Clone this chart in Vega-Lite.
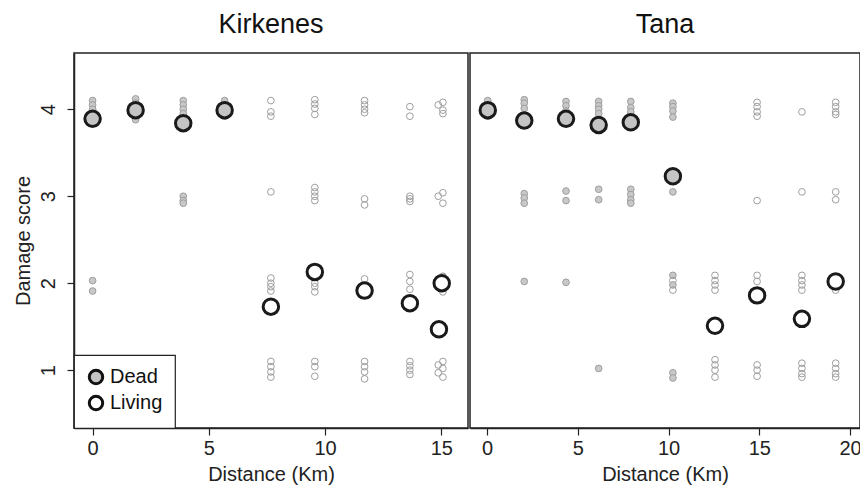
{
  "$schema": "https://vega.github.io/schema/vega-lite/v6.json",
  "background": "white",
  "padding": {"left": 12, "top": 10, "right": 0, "bottom": 0},
  "spacing": 0,
  "datasets": {
    "pts": [
      {"s":"Kirkenes","k":"i","st":"Dead","d":0,"y":4.1},{"s":"Kirkenes","k":"i","st":"Dead","d":0,"y":4.05},{"s":"Kirkenes","k":"i","st":"Dead","d":0,"y":4.0},{"s":"Kirkenes","k":"i","st":"Dead","d":0,"y":3.95},{"s":"Kirkenes","k":"i","st":"Dead","d":0,"y":3.9},{"s":"Kirkenes","k":"i","st":"Dead","d":0,"y":2.03},{"s":"Kirkenes","k":"i","st":"Dead","d":0,"y":1.91},
      {"s":"Kirkenes","k":"i","st":"Dead","d":1.85,"y":4.12},{"s":"Kirkenes","k":"i","st":"Dead","d":1.85,"y":4.07},{"s":"Kirkenes","k":"i","st":"Dead","d":1.85,"y":4.02},{"s":"Kirkenes","k":"i","st":"Dead","d":1.85,"y":3.97},{"s":"Kirkenes","k":"i","st":"Dead","d":1.85,"y":3.92},{"s":"Kirkenes","k":"i","st":"Dead","d":1.85,"y":3.88},
      {"s":"Kirkenes","k":"i","st":"Dead","d":3.9,"y":4.1},{"s":"Kirkenes","k":"i","st":"Dead","d":3.9,"y":4.05},{"s":"Kirkenes","k":"i","st":"Dead","d":3.9,"y":4.0},{"s":"Kirkenes","k":"i","st":"Dead","d":3.9,"y":3.95},{"s":"Kirkenes","k":"i","st":"Dead","d":3.9,"y":3.0},{"s":"Kirkenes","k":"i","st":"Dead","d":3.9,"y":2.95},{"s":"Kirkenes","k":"i","st":"Dead","d":3.9,"y":2.92},
      {"s":"Kirkenes","k":"i","st":"Dead","d":5.68,"y":4.1},{"s":"Kirkenes","k":"i","st":"Dead","d":5.68,"y":4.05},{"s":"Kirkenes","k":"i","st":"Dead","d":5.68,"y":4.0},{"s":"Kirkenes","k":"i","st":"Dead","d":5.68,"y":3.95},{"s":"Kirkenes","k":"i","st":"Dead","d":5.68,"y":3.92},
      {"s":"Kirkenes","k":"i","st":"Living","d":7.67,"y":4.1},{"s":"Kirkenes","k":"i","st":"Living","d":7.67,"y":3.97},{"s":"Kirkenes","k":"i","st":"Living","d":7.67,"y":3.92},{"s":"Kirkenes","k":"i","st":"Living","d":7.67,"y":3.05},{"s":"Kirkenes","k":"i","st":"Living","d":7.67,"y":2.06},{"s":"Kirkenes","k":"i","st":"Living","d":7.67,"y":2.0},{"s":"Kirkenes","k":"i","st":"Living","d":7.67,"y":1.96},{"s":"Kirkenes","k":"i","st":"Living","d":7.67,"y":1.91},{"s":"Kirkenes","k":"i","st":"Living","d":7.67,"y":1.1},{"s":"Kirkenes","k":"i","st":"Living","d":7.67,"y":1.04},{"s":"Kirkenes","k":"i","st":"Living","d":7.67,"y":0.98},{"s":"Kirkenes","k":"i","st":"Living","d":7.67,"y":0.92},
      {"s":"Kirkenes","k":"i","st":"Living","d":9.56,"y":4.11},{"s":"Kirkenes","k":"i","st":"Living","d":9.56,"y":4.06},{"s":"Kirkenes","k":"i","st":"Living","d":9.56,"y":4.01},{"s":"Kirkenes","k":"i","st":"Living","d":9.56,"y":3.94},{"s":"Kirkenes","k":"i","st":"Living","d":9.56,"y":3.1},{"s":"Kirkenes","k":"i","st":"Living","d":9.56,"y":3.05},{"s":"Kirkenes","k":"i","st":"Living","d":9.56,"y":3.0},{"s":"Kirkenes","k":"i","st":"Living","d":9.56,"y":2.95},{"s":"Kirkenes","k":"i","st":"Living","d":9.56,"y":2.0},{"s":"Kirkenes","k":"i","st":"Living","d":9.56,"y":1.96},{"s":"Kirkenes","k":"i","st":"Living","d":9.56,"y":1.9},{"s":"Kirkenes","k":"i","st":"Living","d":9.56,"y":1.1},{"s":"Kirkenes","k":"i","st":"Living","d":9.56,"y":1.04},{"s":"Kirkenes","k":"i","st":"Living","d":9.56,"y":0.93},
      {"s":"Kirkenes","k":"i","st":"Living","d":11.7,"y":4.1},{"s":"Kirkenes","k":"i","st":"Living","d":11.7,"y":4.05},{"s":"Kirkenes","k":"i","st":"Living","d":11.7,"y":4.0},{"s":"Kirkenes","k":"i","st":"Living","d":11.7,"y":3.96},{"s":"Kirkenes","k":"i","st":"Living","d":11.7,"y":2.97},{"s":"Kirkenes","k":"i","st":"Living","d":11.7,"y":2.9},{"s":"Kirkenes","k":"i","st":"Living","d":11.7,"y":2.05},{"s":"Kirkenes","k":"i","st":"Living","d":11.7,"y":1.1},{"s":"Kirkenes","k":"i","st":"Living","d":11.7,"y":1.04},{"s":"Kirkenes","k":"i","st":"Living","d":11.7,"y":0.98},{"s":"Kirkenes","k":"i","st":"Living","d":11.7,"y":0.9},
      {"s":"Kirkenes","k":"i","st":"Living","d":13.65,"y":4.03},{"s":"Kirkenes","k":"i","st":"Living","d":13.65,"y":3.92},{"s":"Kirkenes","k":"i","st":"Living","d":13.65,"y":3.0},{"s":"Kirkenes","k":"i","st":"Living","d":13.65,"y":2.97},{"s":"Kirkenes","k":"i","st":"Living","d":13.65,"y":2.94},{"s":"Kirkenes","k":"i","st":"Living","d":13.65,"y":2.1},{"s":"Kirkenes","k":"i","st":"Living","d":13.65,"y":2.02},{"s":"Kirkenes","k":"i","st":"Living","d":13.65,"y":1.93},{"s":"Kirkenes","k":"i","st":"Living","d":13.65,"y":1.1},{"s":"Kirkenes","k":"i","st":"Living","d":13.65,"y":1.05},{"s":"Kirkenes","k":"i","st":"Living","d":13.65,"y":1.0},{"s":"Kirkenes","k":"i","st":"Living","d":13.65,"y":0.95},
      {"s":"Kirkenes","k":"i","st":"Living","d":15.07,"y":4.08},{"s":"Kirkenes","k":"i","st":"Living","d":15.07,"y":3.99},{"s":"Kirkenes","k":"i","st":"Living","d":15.07,"y":3.95},{"s":"Kirkenes","k":"i","st":"Living","d":15.07,"y":3.04},{"s":"Kirkenes","k":"i","st":"Living","d":15.07,"y":2.92},{"s":"Kirkenes","k":"i","st":"Dead","d":15.07,"y":2.08},{"s":"Kirkenes","k":"i","st":"Living","d":15.07,"y":2.0},{"s":"Kirkenes","k":"i","st":"Living","d":15.07,"y":1.9},{"s":"Kirkenes","k":"i","st":"Living","d":15.07,"y":1.1},{"s":"Kirkenes","k":"i","st":"Living","d":15.07,"y":1.02},{"s":"Kirkenes","k":"i","st":"Living","d":15.07,"y":0.92},
      {"s":"Kirkenes","k":"i","st":"Living","d":14.87,"y":4.05},{"s":"Kirkenes","k":"i","st":"Living","d":14.87,"y":3.0},{"s":"Kirkenes","k":"i","st":"Living","d":14.87,"y":1.06},{"s":"Kirkenes","k":"i","st":"Living","d":14.87,"y":0.97},
      {"s":"Kirkenes","k":"m","st":"Dead","d":0,"y":3.89},{"s":"Kirkenes","k":"m","st":"Dead","d":1.85,"y":3.99},{"s":"Kirkenes","k":"m","st":"Dead","d":3.9,"y":3.84},{"s":"Kirkenes","k":"m","st":"Dead","d":5.68,"y":3.99},
      {"s":"Kirkenes","k":"m","st":"Living","d":7.67,"y":1.73},{"s":"Kirkenes","k":"m","st":"Living","d":9.56,"y":2.13},{"s":"Kirkenes","k":"m","st":"Living","d":11.7,"y":1.915},{"s":"Kirkenes","k":"m","st":"Living","d":13.65,"y":1.77},{"s":"Kirkenes","k":"m","st":"Living","d":15.02,"y":2.0},{"s":"Kirkenes","k":"m","st":"Living","d":14.9,"y":1.47},
      {"s":"Tana","k":"i","st":"Dead","d":0.04,"y":4.1},{"s":"Tana","k":"i","st":"Dead","d":0.04,"y":4.05},{"s":"Tana","k":"i","st":"Dead","d":0.04,"y":4.0},{"s":"Tana","k":"i","st":"Dead","d":0.04,"y":3.95},{"s":"Tana","k":"i","st":"Dead","d":0.04,"y":3.92},
      {"s":"Tana","k":"i","st":"Dead","d":2.05,"y":4.11},{"s":"Tana","k":"i","st":"Dead","d":2.05,"y":4.07},{"s":"Tana","k":"i","st":"Dead","d":2.05,"y":4.01},{"s":"Tana","k":"i","st":"Dead","d":2.05,"y":3.93},{"s":"Tana","k":"i","st":"Dead","d":2.05,"y":3.03},{"s":"Tana","k":"i","st":"Dead","d":2.05,"y":2.98},{"s":"Tana","k":"i","st":"Dead","d":2.05,"y":2.92},{"s":"Tana","k":"i","st":"Dead","d":2.05,"y":2.02},
      {"s":"Tana","k":"i","st":"Dead","d":4.35,"y":4.09},{"s":"Tana","k":"i","st":"Dead","d":4.35,"y":4.04},{"s":"Tana","k":"i","st":"Dead","d":4.35,"y":3.98},{"s":"Tana","k":"i","st":"Dead","d":4.35,"y":3.06},{"s":"Tana","k":"i","st":"Dead","d":4.35,"y":2.95},{"s":"Tana","k":"i","st":"Dead","d":4.35,"y":2.01},
      {"s":"Tana","k":"i","st":"Dead","d":6.15,"y":4.09},{"s":"Tana","k":"i","st":"Dead","d":6.15,"y":4.04},{"s":"Tana","k":"i","st":"Dead","d":6.15,"y":4.0},{"s":"Tana","k":"i","st":"Dead","d":6.15,"y":3.95},{"s":"Tana","k":"i","st":"Dead","d":6.15,"y":3.08},{"s":"Tana","k":"i","st":"Dead","d":6.15,"y":2.96},{"s":"Tana","k":"i","st":"Dead","d":6.15,"y":1.02},
      {"s":"Tana","k":"i","st":"Dead","d":7.92,"y":4.09},{"s":"Tana","k":"i","st":"Dead","d":7.92,"y":4.02},{"s":"Tana","k":"i","st":"Dead","d":7.92,"y":3.97},{"s":"Tana","k":"i","st":"Dead","d":7.92,"y":3.08},{"s":"Tana","k":"i","st":"Dead","d":7.92,"y":3.02},{"s":"Tana","k":"i","st":"Dead","d":7.92,"y":2.96},{"s":"Tana","k":"i","st":"Dead","d":7.92,"y":2.92},
      {"s":"Tana","k":"i","st":"Dead","d":10.24,"y":4.07},{"s":"Tana","k":"i","st":"Dead","d":10.24,"y":4.03},{"s":"Tana","k":"i","st":"Dead","d":10.24,"y":3.98},{"s":"Tana","k":"i","st":"Dead","d":10.24,"y":3.91},{"s":"Tana","k":"i","st":"Dead","d":10.24,"y":3.05},{"s":"Tana","k":"i","st":"Dead","d":10.24,"y":2.09},{"s":"Tana","k":"i","st":"Living","d":10.24,"y":2.03},{"s":"Tana","k":"i","st":"Dead","d":10.24,"y":1.98},{"s":"Tana","k":"i","st":"Living","d":10.24,"y":1.92},{"s":"Tana","k":"i","st":"Dead","d":10.24,"y":0.97},{"s":"Tana","k":"i","st":"Dead","d":10.24,"y":0.91},
      {"s":"Tana","k":"i","st":"Living","d":12.56,"y":2.09},{"s":"Tana","k":"i","st":"Living","d":12.56,"y":2.03},{"s":"Tana","k":"i","st":"Living","d":12.56,"y":1.98},{"s":"Tana","k":"i","st":"Living","d":12.56,"y":1.92},{"s":"Tana","k":"i","st":"Living","d":12.56,"y":1.12},{"s":"Tana","k":"i","st":"Living","d":12.56,"y":1.06},{"s":"Tana","k":"i","st":"Living","d":12.56,"y":1.0},{"s":"Tana","k":"i","st":"Living","d":12.56,"y":0.92},
      {"s":"Tana","k":"i","st":"Living","d":14.88,"y":4.08},{"s":"Tana","k":"i","st":"Living","d":14.88,"y":4.03},{"s":"Tana","k":"i","st":"Living","d":14.88,"y":3.97},{"s":"Tana","k":"i","st":"Living","d":14.88,"y":3.92},{"s":"Tana","k":"i","st":"Living","d":14.88,"y":2.95},{"s":"Tana","k":"i","st":"Living","d":14.88,"y":2.09},{"s":"Tana","k":"i","st":"Living","d":14.88,"y":2.02},{"s":"Tana","k":"i","st":"Living","d":14.88,"y":1.06},{"s":"Tana","k":"i","st":"Living","d":14.88,"y":1.0},{"s":"Tana","k":"i","st":"Living","d":14.88,"y":0.93},
      {"s":"Tana","k":"i","st":"Living","d":17.35,"y":3.97},{"s":"Tana","k":"i","st":"Living","d":17.35,"y":3.05},{"s":"Tana","k":"i","st":"Living","d":17.35,"y":2.09},{"s":"Tana","k":"i","st":"Living","d":17.35,"y":2.03},{"s":"Tana","k":"i","st":"Living","d":17.35,"y":1.98},{"s":"Tana","k":"i","st":"Living","d":17.35,"y":1.92},{"s":"Tana","k":"i","st":"Living","d":17.35,"y":1.08},{"s":"Tana","k":"i","st":"Living","d":17.35,"y":1.02},{"s":"Tana","k":"i","st":"Living","d":17.35,"y":0.96},{"s":"Tana","k":"i","st":"Living","d":17.35,"y":0.92},
      {"s":"Tana","k":"i","st":"Living","d":19.21,"y":4.08},{"s":"Tana","k":"i","st":"Living","d":19.21,"y":4.03},{"s":"Tana","k":"i","st":"Living","d":19.21,"y":3.97},{"s":"Tana","k":"i","st":"Living","d":19.21,"y":3.94},{"s":"Tana","k":"i","st":"Living","d":19.21,"y":3.05},{"s":"Tana","k":"i","st":"Living","d":19.21,"y":2.96},{"s":"Tana","k":"i","st":"Living","d":19.21,"y":2.02},{"s":"Tana","k":"i","st":"Living","d":19.21,"y":1.92},{"s":"Tana","k":"i","st":"Living","d":19.21,"y":1.08},{"s":"Tana","k":"i","st":"Living","d":19.21,"y":1.02},{"s":"Tana","k":"i","st":"Living","d":19.21,"y":0.96},{"s":"Tana","k":"i","st":"Living","d":19.21,"y":0.92},
      {"s":"Tana","k":"m","st":"Dead","d":0.04,"y":3.99},{"s":"Tana","k":"m","st":"Dead","d":2.05,"y":3.87},{"s":"Tana","k":"m","st":"Dead","d":4.35,"y":3.89},{"s":"Tana","k":"m","st":"Dead","d":6.15,"y":3.82},{"s":"Tana","k":"m","st":"Dead","d":7.92,"y":3.85},{"s":"Tana","k":"m","st":"Dead","d":10.24,"y":3.23},
      {"s":"Tana","k":"m","st":"Living","d":12.56,"y":1.51},{"s":"Tana","k":"m","st":"Living","d":14.88,"y":1.86},{"s":"Tana","k":"m","st":"Living","d":17.35,"y":1.59},{"s":"Tana","k":"m","st":"Living","d":19.21,"y":2.02}
    ]
  },
  "config": {
    "font": "Liberation Sans, Arial, Helvetica, sans-serif",
    "view": {"stroke": "#222", "strokeWidth": 1.5},
    "axis": {"domainColor": "#222", "domainWidth": 1.5, "tickColor": "#222", "tickWidth": 1.2, "tickSize": 7, "labelFontSize": 20, "labelColor": "#222", "titleFontSize": 20, "titleFontWeight": "normal", "titleColor": "#222", "grid": false, "labelPadding": 3, "titlePadding": 6},
    "title": {"fontSize": 27, "fontWeight": "normal", "color": "#111", "offset": 14, "anchor": "middle", "frame": "group"},
    "legend": {"strokeColor": "#222", "strokeWidth": 1.2, "fillColor": "white", "padding": 12, "labelFontSize": 20, "labelColor": "#111", "symbolStrokeColor": "#111", "symbolStrokeWidth": 3, "symbolSize": 180, "symbolType": "circle", "labelOffset": 4, "rowPadding": 0}
  },
  "resolve": {"scale": {"x": "independent", "y": "independent", "fill": "independent"}, "legend": {"fill": "independent"}},
  "hconcat": [
    {
      "width": 394, "height": 375,
      "title": "Kirkenes",
      "data": {"name": "pts"},
      "transform": [{"filter": "datum.s === 'Kirkenes'"}],
      "encoding": {
        "x": {"field": "d", "type": "quantitative", "title": "Distance (Km)", "scale": {"domain": [-0.8, 16.15], "nice": false, "zero": false}, "axis": {"values": [0, 5, 10, 15]}},
        "y": {"field": "y", "type": "quantitative", "title": "Damage score", "scale": {"domain": [0.335, 4.647], "nice": false, "zero": false}, "axis": {"values": [1, 2, 3, 4], "labelAngle": -90, "labelAlign": "center", "labelBaseline": "bottom", "labelPadding": 9, "titlePadding": 5}}
      },
      "layer": [
        {"transform": [{"filter": "datum.k === 'i'"}], "mark": {"type": "circle", "size": 45, "stroke": "#9e9e9e", "strokeWidth": 1, "opacity": 1}, "encoding": {"fill": {"condition": {"test": "datum.st === 'Dead'", "value": "#c8c8c8"}, "value": "transparent"}}},
        {"transform": [{"filter": "datum.k === 'm'"}], "mark": {"type": "circle", "size": 240, "stroke": "#1a1a1a", "strokeWidth": 3, "opacity": 1}, "encoding": {"fill": {"field": "st", "type": "nominal", "scale": {"domain": ["Dead", "Living"], "range": ["#c4c4c4", "white"]}, "legend": {"title": null, "orient": "bottom-left", "offset": 0}}}}
      ]
    },
    {
      "width": 390, "height": 375,
      "title": "Tana",
      "data": {"name": "pts"},
      "transform": [{"filter": "datum.s === 'Tana'"}],
      "encoding": {
        "x": {"field": "d", "type": "quantitative", "title": "Distance (Km)", "scale": {"domain": [-0.94, 20.55], "nice": false, "zero": false}, "axis": {"values": [0, 5, 10, 15, 20]}},
        "y": {"field": "y", "type": "quantitative", "scale": {"domain": [0.335, 4.647], "nice": false, "zero": false}, "axis": null}
      },
      "layer": [
        {"transform": [{"filter": "datum.k === 'i'"}], "mark": {"type": "circle", "size": 45, "stroke": "#9e9e9e", "strokeWidth": 1, "opacity": 1}, "encoding": {"fill": {"condition": {"test": "datum.st === 'Dead'", "value": "#c8c8c8"}, "value": "transparent"}}},
        {"transform": [{"filter": "datum.k === 'm'"}], "mark": {"type": "circle", "size": 240, "stroke": "#1a1a1a", "strokeWidth": 3, "opacity": 1}, "encoding": {"fill": {"field": "st", "type": "nominal", "scale": {"domain": ["Dead", "Living"], "range": ["#c4c4c4", "white"]}, "legend": null}}}
      ]
    }
  ]
}
